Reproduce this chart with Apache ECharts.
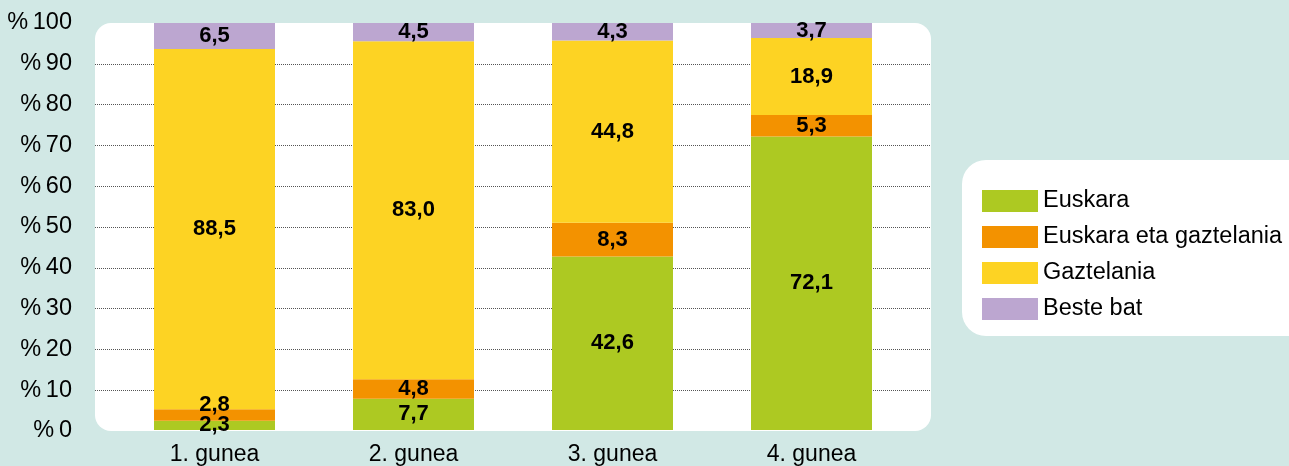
<!DOCTYPE html>
<html>
<head>
<meta charset="utf-8">
<script src="https://cdn.jsdelivr.net/npm/echarts@6/dist/echarts.min.js"></script>
<style>
  html, body { margin: 0; padding: 0; background: #d1e8e5; }
  #chart { width: 1289px; height: 466px; }
</style>
</head>
<body>
<div id="chart"></div>
<script>
// Hizkuntza nagusia gunearen arabera (%)
const categories = ['1. gunea', '2. gunea', '3. gunea', '4. gunea'];
const seriesNames = ['Euskara', 'Euskara eta gaztelania', 'Gaztelania', 'Beste bat'];
const euskara = [2.3, 7.7, 42.6, 72.1];
const euskaraGaztelania = [2.8, 4.8, 8.3, 5.3];
const gaztelania = [88.5, 83.0, 44.8, 18.9];
const besteBat = [6.5, 4.5, 4.3, 3.7];
const yTicks = [0, 10, 20, 30, 40, 50, 60, 70, 80, 90, 100];

const colors = ['#adc922', '#f39200', '#fdd323', '#bca6d0'];
const FONT = '"Liberation Sans", Arial, sans-serif';

const values = [euskara, euskaraGaztelania, gaztelania, besteBat];

// split lines: hide the ones at 0 and 100, dotted for the rest
const gridColors = yTicks.map((t, i) => (i === 0 || i === yTicks.length - 1) ? 'rgba(0,0,0,0)' : '#555');

const chart = echarts.init(document.getElementById('chart'), null, { renderer: 'canvas' });

const barSeries = seriesNames.map((name, s) => ({
  name,
  type: 'bar',
  stack: 'total',
  xAxisIndex: 1,
  yAxisIndex: 1,
  barWidth: 121,
  itemStyle: { color: colors[s] },
  label: {
    show: true,
    position: 'inside',
    color: '#000',
    fontWeight: 'bold',
    fontSize: 22,
    fontFamily: FONT,
    formatter: p => p.value.toFixed(1).replace('.', ',')
  },
  data: values[s].map((v, i) => {
    // small orange slice in the first zone: lift its label above the green one
    if (s === 1 && i === 0) return { value: v, label: { offset: [0, -10] } };
    return v;
  })
}));

chart.setOption({
  backgroundColor: '#d1e8e5',
  animation: false,
  graphic: [
    { type: 'rect', z: -10, shape: { x: 95, y: 23, width: 836, height: 408, r: 16 }, style: { fill: '#ffffff' } },
    { type: 'rect', z: -10, shape: { x: 962, y: 160, width: 360, height: 176, r: 24 }, style: { fill: '#ffffff' } }
  ],
  legend: {
    orient: 'vertical',
    left: 982,
    top: 189,
    padding: 0,
    icon: 'rect',
    itemWidth: 56,
    itemHeight: 22,
    itemGap: 12,
    textStyle: { fontSize: 23.5, fontFamily: FONT, color: '#000' },
    data: seriesNames
  },
  grid: [
    { left: 95, right: 358, top: 23, bottom: 35, containLabel: false },
    { left: 115, right: 378, top: 23, bottom: 35, containLabel: false }
  ],
  xAxis: [
    { type: 'category', gridIndex: 0, data: categories, show: false },
    {
      type: 'category', gridIndex: 1, data: categories,
      axisLine: { show: false }, axisTick: { show: false },
      axisLabel: { fontSize: 23, fontFamily: FONT, color: '#000', margin: 13 }
    }
  ],
  yAxis: [
    {
      type: 'value', gridIndex: 0, min: 0, max: 100, interval: 10,
      axisLine: { show: false }, axisTick: { show: false },
      axisLabel: { fontSize: 23.5, fontFamily: FONT, color: '#000', margin: 23, formatter: v => '%\u2009' + v },
      splitLine: { show: true, lineStyle: { color: gridColors, type: [1, 1], width: 1 } }
    },
    {
      type: 'value', gridIndex: 1, min: 0, max: 100, interval: 10,
      show: false, splitLine: { show: false }
    }
  ],
  series: barSeries
});
</script>
</body>
</html>
